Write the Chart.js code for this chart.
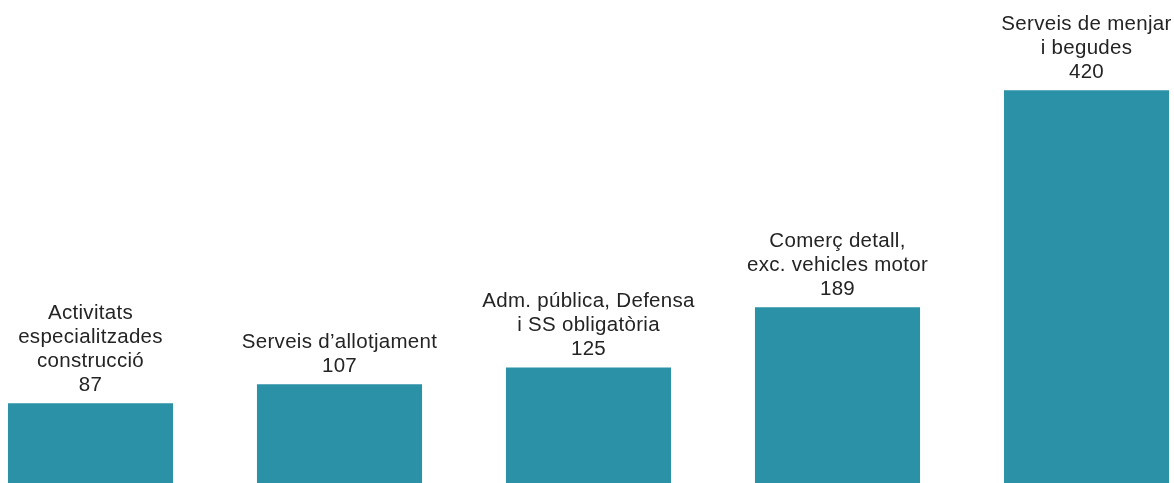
<!DOCTYPE html>
<html>
<head>
<meta charset="utf-8">
<script src="https://cdn.jsdelivr.net/npm/chart.js@4"></script>
<style>
html,body{margin:0;padding:0;background:#fff;overflow:hidden;}
#wrap{position:relative;width:1174px;height:483px;}
</style>
</head>
<body>
<div id="wrap"><canvas id="c"></canvas></div>
<script>
const categories = [
  ["Activitats", "especialitzades", "construcció"],
  ["Serveis d\u2019allotjament"],
  ["Adm. pública, Defensa", "i SS obligatòria"],
  ["Comerç detall,", "exc. vehicles motor"],
  ["Serveis de menjar", "i begudes"]
];
const values = [87, 107, 125, 189, 420];

const labelPlugin = {
  id: 'barLabels',
  afterDatasetsDraw(chart) {
    const ctx = chart.ctx;
    const meta = chart.getDatasetMeta(0);
    ctx.save();
    ctx.fillStyle = '#242424';
    ctx.font = '20.5px "Liberation Sans", Arial, sans-serif';
    if ('letterSpacing' in ctx) ctx.letterSpacing = '0.3px';
    ctx.textAlign = 'center';
    ctx.textBaseline = 'alphabetic';
    meta.data.forEach((bar, i) => {
      const lines = categories[i].concat([String(values[i])]);
      let y = bar.y - 12;
      for (let k = lines.length - 1; k >= 0; k--) {
        ctx.fillText(lines[k], bar.x, y);
        y -= 24;
      }
    });
    ctx.restore();
  }
};

new Chart(document.getElementById('c'), {
  type: 'bar',
  data: {
    labels: categories.map(c => c.join(' ')),
    datasets: [{
      data: values,
      backgroundColor: '#2a91a6',
      borderWidth: 0,
      barPercentage: 0.663,
      categoryPercentage: 1,
      clip: false
    }]
  },
  options: {
    responsive: true,
    maintainAspectRatio: false,
    animation: false,
    layout: { padding: { left: 90.5, right: 87.5, top: 0, bottom: 0 } },
    plugins: { legend: { display: false }, tooltip: { enabled: false } },
    scales: {
      x: { display: false, offset: false },
      y: { display: false, min: 2, max: 516 }
    }
  },
  plugins: [labelPlugin]
});
</script>
</body>
</html>
